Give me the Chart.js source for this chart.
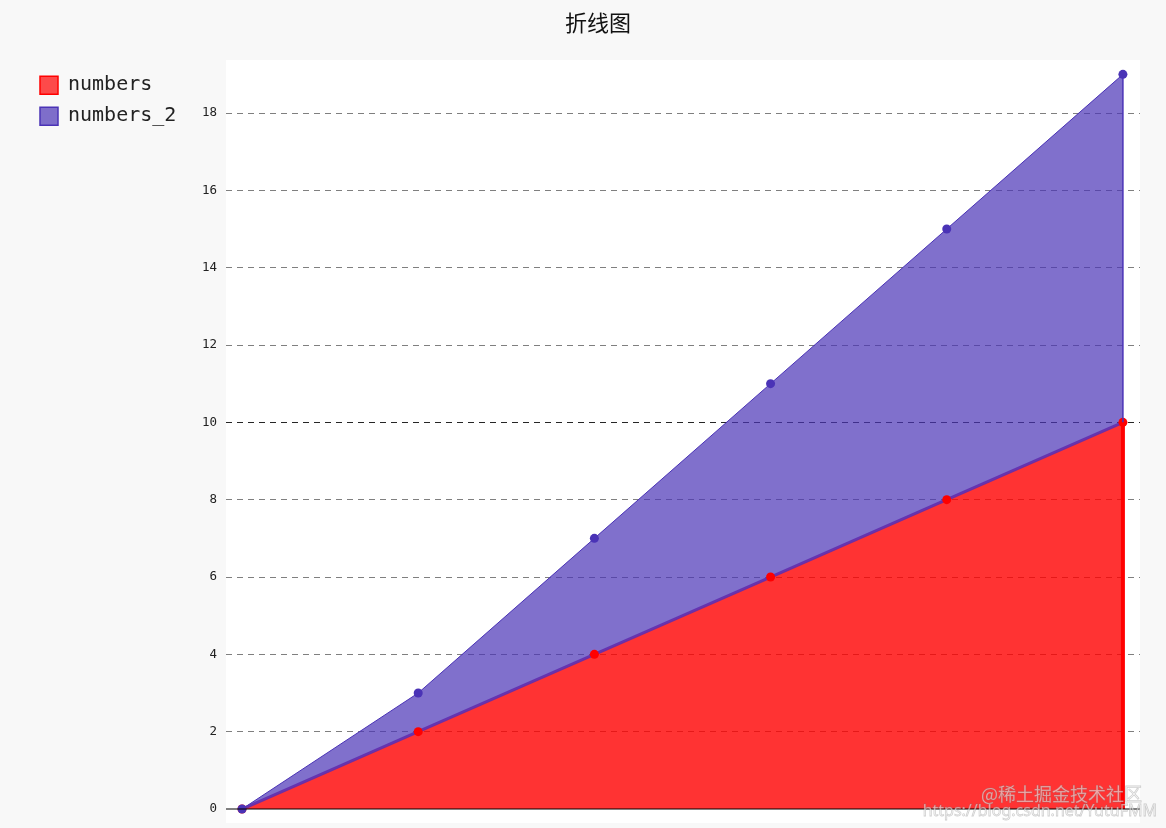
<!DOCTYPE html>
<html>
<head>
<meta charset="utf-8">
<title>折线图</title>
<script src="https://cdn.jsdelivr.net/npm/chart.js@4/dist/chart.umd.min.js"></script>
<style>
  html, body { margin: 0; padding: 0; background: #f8f8f8; }
  #chartContainer { display: block; }
</style>
</head>
<body>
<canvas id="chartContainer" width="1166" height="828"></canvas>
<script>
"use strict";

// 1: data
let chartTitle = '折线图';
let xSteps = [0, 1, 2, 3, 4, 5];
let numbers = [0, 2, 4, 6, 8, 10];
let numbers2 = [0, 3, 7, 11, 15, 19]; // top edge of the purple band
let seriesLabels = ['numbers', 'numbers_2'];
let yTicks = [0, 2, 4, 6, 8, 10, 12, 14, 16, 18];

let watermark = ['@稀土掘金技术社区', 'https://blog.csdn.net/YutuFMM'];

// colours
let redLine = 'rgb(255, 0, 0)';
let redFill = 'rgba(255, 0, 0, 0.8)';
let purpleLine = 'rgb(74, 51, 182)';
let purpleFill = 'rgba(74, 51, 182, 0.7)';

// 2: prepare data for chart
function toPoints(values) {
  return values.map((v, i) => ({ x: xSteps[i], y: v }));
}

// white plot background, solid zero line, closing edges, title and watermark
const decorations = {
  id: 'decorations',
  beforeDraw(chart) {
    const { ctx, chartArea } = chart;
    ctx.save();
    ctx.fillStyle = '#ffffff';
    ctx.fillRect(chartArea.left, chartArea.top, chartArea.right - chartArea.left, chartArea.bottom - chartArea.top);
    ctx.restore();
  },
  afterDatasetsDraw(chart) {
    const { ctx, chartArea, scales } = chart;
    const x = scales.x, y = scales.y;
    const last = xSteps.length - 1;
    const xr = x.getPixelForValue(xSteps[last]);
    ctx.save();
    // right closing edge of the red area
    ctx.strokeStyle = redLine;
    ctx.lineWidth = 4;
    ctx.beginPath();
    ctx.moveTo(xr, y.getPixelForValue(numbers[last]));
    ctx.lineTo(xr, y.getPixelForValue(0));
    ctx.stroke();
    // right closing edge of the purple area
    ctx.strokeStyle = purpleLine;
    ctx.lineWidth = 1.5;
    ctx.beginPath();
    ctx.moveTo(xr, y.getPixelForValue(numbers2[last]));
    ctx.lineTo(xr, y.getPixelForValue(numbers[last]));
    ctx.stroke();
    // zero line
    const y0 = y.getPixelForValue(0);
    ctx.strokeStyle = '#000';
    ctx.lineWidth = 1;
    ctx.beginPath();
    ctx.moveTo(chartArea.left, y0);
    ctx.lineTo(chartArea.right, y0);
    ctx.stroke();
    ctx.restore();
  },
  afterDraw(chart) {
    const { ctx } = chart;
    ctx.save();
    // title
    ctx.fillStyle = '#111';
    ctx.font = '22px "Noto Sans CJK SC", sans-serif';
    ctx.textAlign = 'center';
    ctx.textBaseline = 'middle';
    ctx.fillText(chartTitle, 598, 23);
    // watermark
    ctx.textAlign = 'right';
    ctx.textBaseline = 'alphabetic';
    ctx.lineWidth = 0.8;
    ctx.strokeStyle = 'rgba(120, 120, 120, 0.35)';
    ctx.fillStyle = 'rgba(255, 255, 255, 0.6)';
    ctx.font = '18px "Noto Sans CJK SC", sans-serif';
    ctx.fillText(watermark[0], 1142, 801);
    ctx.strokeText(watermark[0], 1142, 801);
    ctx.font = '16px "Noto Sans", sans-serif';
    ctx.fillText(watermark[1], 1157, 816);
    ctx.strokeText(watermark[1], 1157, 816);
    ctx.restore();
  }
};

// 3: create and append the chart
function appendChart() {
  let chartContainer = document.getElementById('chartContainer');
  let chart = new Chart(chartContainer, {
    type: 'line',
    data: {
      datasets: [{
        label: seriesLabels[0],
        data: toPoints(numbers),
        order: 1,
        fill: 'origin',
        backgroundColor: redFill,
        borderColor: 'rgba(95, 45, 175, 0.9)',
        borderWidth: 3,
        pointRadius: 4.5,
        pointBackgroundColor: redLine,
        pointBorderColor: redLine,
        pointBorderWidth: 0,
        tension: 0
      }, {
        label: seriesLabels[1],
        data: toPoints(numbers2),
        order: 0,
        fill: '-1',
        backgroundColor: purpleFill,
        borderColor: purpleLine,
        borderWidth: 1,
        pointRadius: 4.5,
        pointBackgroundColor: purpleLine,
        pointBorderColor: purpleLine,
        pointBorderWidth: 0,
        tension: 0
      }]
    },
    options: {
      responsive: false,
      animation: false,
      layout: { padding: { left: 29, top: 60, right: 26, bottom: 5 } },
      plugins: {
        title: { display: false },
        tooltip: { enabled: false },
        filler: { drawTime: 'beforeDatasetsDraw' },
        legend: {
          position: 'left',
          align: 'start',
          fullSize: false,
          title: { display: true, text: ' ', font: { size: 1 }, padding: { top: 3, bottom: 0 } },
          labels: {
            boxWidth: 18,
            boxHeight: 18,
            padding: 11,
            color: '#222',
            font: { family: '"DejaVu Sans Mono", monospace', size: 20 },
            sort: (a, b) => a.datasetIndex - b.datasetIndex,
            generateLabels: (chart) => seriesLabels.map((label, i) => ({
              text: label,
              datasetIndex: i,
              fillStyle: i === 0 ? 'rgba(255, 0, 0, 0.7)' : purpleFill,
              strokeStyle: i === 0 ? redLine : purpleLine,
              fontColor: '#222',
              lineWidth: 1.5,
              hidden: false
            }))
          }
        }
      },
      scales: {
        x: {
          type: 'linear',
          display: false,
          min: -0.091,
          max: 5.097
        },
        y: {
          type: 'linear',
          min: -0.362,
          max: 19.371,
          border: { display: false, dash: [6, 5] },
          grid: {
            drawTicks: false,
            lineWidth: 1,
            color: (ctx) => {
              if (!ctx.tick) return 'rgba(0,0,0,0)';
              if (ctx.tick.value === 0) return 'rgba(0,0,0,0)';
              if (ctx.tick.value === 10) return 'rgba(0,0,0,0.85)';
              return 'rgba(0,0,0,0.5)';
            }
          },
          afterBuildTicks: (scale) => {
            scale.ticks = yTicks.map(v => ({ value: v }));
          },
          afterFit: (scale) => {
            const legendWidth = scale.chart.legend ? scale.chart.legend.width : 0;
            scale.width = Math.max(24, 226 - 29 - legendWidth);
            scale.paddingTop = 0;
            scale.paddingBottom = 0;
          },
          ticks: {
            padding: 9,
            color: '#222',
            font: { family: '"DejaVu Sans Mono", monospace', size: 12.5 }
          }
        }
      }
    },
    plugins: [decorations]
  });
}

appendChart();
</script>
</body>
</html>
